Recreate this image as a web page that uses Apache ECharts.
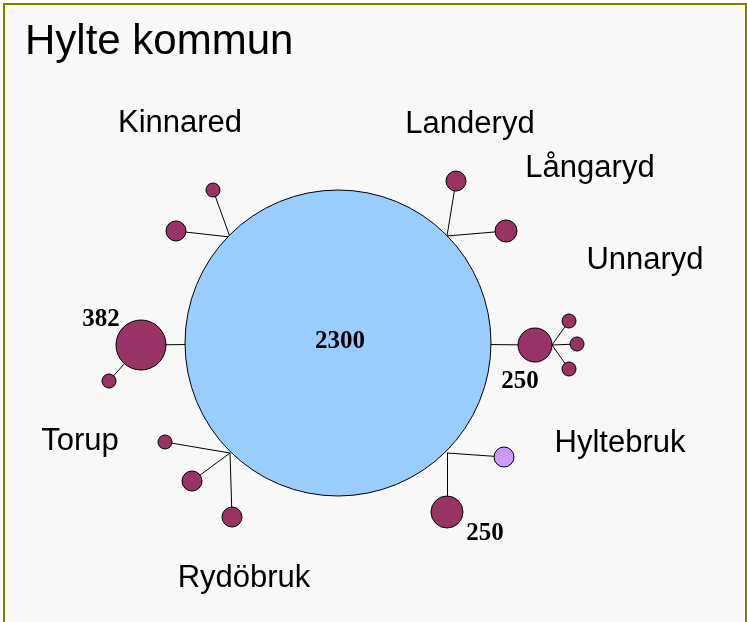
<!DOCTYPE html>
<html>
<head>
<meta charset="utf-8">
<script src="https://cdn.jsdelivr.net/npm/echarts@6/dist/echarts.min.js"></script>
<style>
    html, body { margin: 0; padding: 0; background: #ffffff; overflow: hidden; }
    #frame { position: absolute; left: 3px; top: 3px; width: 740px; height: 640px;
             border: 2px solid #808000; background: #f8f8f8; }
    #main { position: absolute; left: 0; top: 0; width: 747px; height: 622px; }
</style>
</head>
<body>
<div id="frame"></div>
<div id="main"></div>
<script>
// noder: namn, x, y (skärmskala 0..747 / 0..622), radie, färgtyp
var nodeIds   = ['center', 'jK', 'k1', 'k2', 'n382', 'n382b', 'jL', 'l1', 'l2', 'u', 'jU', 'u1', 'u2', 'u3', 'jT', 't1', 't2', 't3', 'jH', 'h1', 'h2'];
var nodeX     = [338, 230, 213, 176, 141, 109, 447, 456, 506, 535, 552, 569, 577, 569, 230, 165, 192, 232, 447, 504, 447];
var nodeY     = [343, 237, 190, 231, 345, 381, 236, 181, 231, 345, 345, 321, 344, 369, 453, 442, 481, 517, 453, 457, 512];
var nodeR     = [153, 0, 7, 10, 25, 7, 0, 10, 11, 17, 0, 7, 7, 7, 0, 7, 10, 10, 0, 10, 16];
var nodeKind  = ['main', 'j', 'a', 'a', 'a', 'a', 'j', 'a', 'a', 'a', 'j', 'a', 'a', 'a', 'j', 'a', 'a', 'a', 'j', 'b', 'a'];
var edges = [
    ['jK', 'k1'], ['jK', 'k2'], ['center', 'n382'], ['n382', 'n382b'],
    ['jL', 'l1'], ['jL', 'l2'], ['center', 'u'], ['jU', 'u1'], ['jU', 'u2'], ['jU', 'u3'],
    ['jT', 't1'], ['jT', 't2'], ['jT', 't3'], ['jH', 'h1'], ['jH', 'h2']
];

// ortnamn
var placeNames = ['Kinnared', 'Landeryd', 'Långaryd', 'Unnaryd', 'Torup', 'Hyltebruk', 'Rydöbruk'];
var placeX     = [180, 470, 590, 645, 80, 620, 244];
var placeY     = [123, 124, 168, 260, 441, 443, 578];

// siffror
var numLabels = ['382', '2300', '250', '250'];
var numX      = [101, 340, 520, 485];
var numY      = [320, 342, 382, 534];

var kindColor = { main: '#99ccff', a: '#993366', b: '#cc99ff', j: 'none' };

var graphData = nodeIds.map(function (id, i) {
    return {
        name: id,
        value: [nodeX[i], nodeY[i]],
        symbolSize: nodeR[i] * 2,
        itemStyle: {
            color: kindColor[nodeKind[i]],
            borderColor: nodeKind[i] === 'j' ? 'none' : '#000000',
            borderWidth: nodeKind[i] === 'j' ? 0 : 1
        }
    };
});

function textSeries(names, xs, ys, font, weight, size, z) {
    return {
        type: 'scatter',
        symbolSize: 0,
        itemStyle: { opacity: 1 },
        data: names.map(function (n, i) { return { name: n, value: [xs[i], ys[i]] }; }),
        label: {
            show: true,
            position: 'inside',
            formatter: '{b}',
            fontFamily: font,
            fontWeight: weight,
            fontSize: size,
            color: '#000000',
            opacity: 1,
            textBorderWidth: 0
        },
        emphasis: { disabled: true },
        z: z
    };
}

var option = {
    animation: false,
    backgroundColor: 'transparent',
    title: {
        text: 'Hylte kommun',
        left: 20,
        top: 16,
        textStyle: { fontFamily: 'Liberation Sans', fontSize: 42, fontWeight: 'normal', color: '#000000' }
    },
    grid: { left: 0, right: 0, top: 0, bottom: 0 },
    xAxis: { type: 'value', min: 0, max: 747, show: false },
    yAxis: { type: 'value', min: 0, max: 622, inverse: true, show: false },
    series: [
        {
            type: 'graph',
            coordinateSystem: 'cartesian2d',
            layout: 'none',
            symbol: 'circle',
            data: graphData,
            links: edges.map(function (e) { return { source: e[0], target: e[1] }; }),
            lineStyle: { color: '#000000', width: 1, opacity: 1 },
            label: { show: false },
            emphasis: { disabled: true }
        },
        textSeries(placeNames, placeX, placeY, 'Liberation Sans', 'normal', 31, 5),
        textSeries(numLabels, numX, numY, 'Liberation Serif', 'bold', 25, 6)
    ]
};

echarts.init(document.getElementById('main')).setOption(option);
</script>
</body>
</html>
